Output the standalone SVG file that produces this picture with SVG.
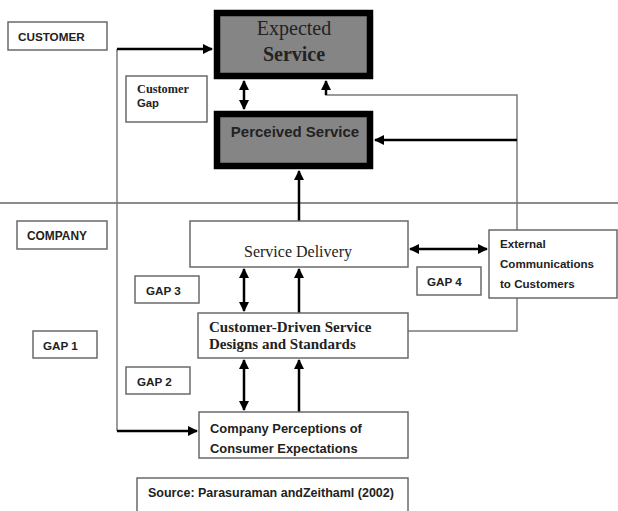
<svg xmlns="http://www.w3.org/2000/svg" width="618" height="511" viewBox="0 0 618 511">
<style>
.box{fill:#fff;stroke:#6a6a6a;stroke-width:1.5}
.dark{fill:#858585;stroke:#000;stroke-width:6.5}
.sans{font-family:"Liberation Sans",Arial,sans-serif;font-weight:bold;fill:#222}
.serif{font-family:"Liberation Serif","Times New Roman",serif;fill:#222}
.thin{fill:none;stroke:#7a7a7a;stroke-width:1.5}
.arr{fill:none;stroke:#000;stroke-width:2.5}
</style>
<defs>
<marker id="ah" viewBox="0 0 10 10" refX="9" refY="5" markerWidth="4" markerHeight="4" orient="auto-start-reverse">
<path d="M0,0 L10,5 L0,10 z" fill="#000"/>
</marker>
</defs>
<rect x="0" y="0" width="618" height="511" fill="#fff"/>
<line x1="0" y1="203" x2="618" y2="203" stroke="#666" stroke-width="1.5"/>
<g id="connectors">
<path class="thin" d="M117,49 V431"/>
<line class="arr" x1="117" y1="49" x2="212" y2="49" stroke-width="2" marker-end="url(#ah)"/>
<line class="arr" x1="117" y1="431" x2="197" y2="431" stroke-width="1.8" marker-end="url(#ah)"/>
<path class="thin" d="M408,331 H517 V298 M517,230 V95 H326 V82"/>
<line class="arr" x1="326" y1="95" x2="326" y2="81" stroke-width="1.8" marker-end="url(#ah)"/>
<line class="arr" x1="517" y1="140" x2="375" y2="140" marker-end="url(#ah)"/>
<line class="arr" x1="244" y1="81" x2="244" y2="109" marker-start="url(#ah)" marker-end="url(#ah)"/>
<line class="arr" x1="299" y1="221" x2="299" y2="171" marker-end="url(#ah)"/>
<line class="arr" x1="410" y1="249" x2="487" y2="249" marker-start="url(#ah)" marker-end="url(#ah)"/>
<line class="arr" x1="244" y1="269" x2="244" y2="311" marker-start="url(#ah)" marker-end="url(#ah)"/>
<line class="arr" x1="299" y1="313" x2="299" y2="269" marker-end="url(#ah)"/>
<line class="arr" x1="244" y1="360" x2="244" y2="410" marker-start="url(#ah)" marker-end="url(#ah)"/>
<line class="arr" x1="299" y1="412" x2="299" y2="360" marker-end="url(#ah)"/>
</g>
<g id="customer">
<rect class="box" x="8" y="22" width="99" height="28"/>
<text class="sans" x="18" y="41" font-size="11.7">CUSTOMER</text>
</g>
<g id="expected">
<rect class="dark" x="217" y="13" width="153" height="63"/>
<text class="serif" x="294" y="35" font-size="20" text-anchor="middle" fill="#333">Expected</text>
<text class="serif" x="294" y="61" font-size="20" font-weight="bold" text-anchor="middle">Service</text>
</g>
<g id="customer-gap">
<rect class="box" x="126" y="76" width="81" height="46"/>
<text class="serif" x="137" y="93" font-size="12.3" font-weight="bold">Customer</text>
<text class="sans" x="137" y="107" font-size="11.3">Gap</text>
</g>
<g id="perceived">
<rect class="dark" x="217" y="114" width="153" height="52"/>
<text class="sans" x="295" y="137" font-size="15" text-anchor="middle">Perceived Service</text>
</g>
<g id="company">
<rect class="box" x="17" y="221" width="90" height="28"/>
<text class="sans" x="27" y="240" font-size="11.9">COMPANY</text>
</g>
<g id="service-delivery">
<rect class="box" x="190" y="221" width="218" height="46"/>
<text class="serif" x="298" y="257" font-size="16" text-anchor="middle" fill="#333">Service Delivery</text>
</g>
<g id="external">
<rect class="box" x="489" y="230" width="128" height="68"/>
<text class="sans" x="500" y="248" font-size="11.6">External</text>
<text class="sans" x="500" y="268" font-size="11.6">Communications</text>
<text class="sans" x="500" y="288" font-size="11.6">to Customers</text>
</g>
<g id="gap4">
<rect class="box" x="417" y="267" width="64" height="28"/>
<text class="sans" x="427" y="286" font-size="11.7">GAP 4</text>
</g>
<g id="gap3">
<rect class="box" x="135" y="276" width="64" height="27"/>
<text class="sans" x="146" y="295" font-size="11.7">GAP 3</text>
</g>
<g id="gap1">
<rect class="box" x="33" y="331" width="64" height="27"/>
<text class="sans" x="43" y="350" font-size="11.7">GAP 1</text>
</g>
<g id="gap2">
<rect class="box" x="126" y="367" width="64" height="27"/>
<text class="sans" x="137" y="386" font-size="11.7">GAP 2</text>
</g>
<g id="standards">
<rect class="box" x="198" y="313" width="210" height="45"/>
<text class="serif" x="209" y="332" font-size="15" font-weight="bold">Customer-Driven Service</text>
<text class="serif" x="209" y="349" font-size="15" font-weight="bold">Designs and Standards</text>
</g>
<g id="perceptions">
<rect class="box" x="199" y="412" width="209" height="46"/>
<text class="sans" x="210" y="433" font-size="12.9">Company Perceptions of</text>
<text class="sans" x="210" y="453" font-size="12.9">Consumer Expectations</text>
</g>
<g id="source">
<rect class="box" x="137" y="478" width="271" height="45"/>
<text class="sans" x="148" y="497" font-size="12.5">Source: Parasuraman andZeithaml (2002)</text>
</g>
</svg>
